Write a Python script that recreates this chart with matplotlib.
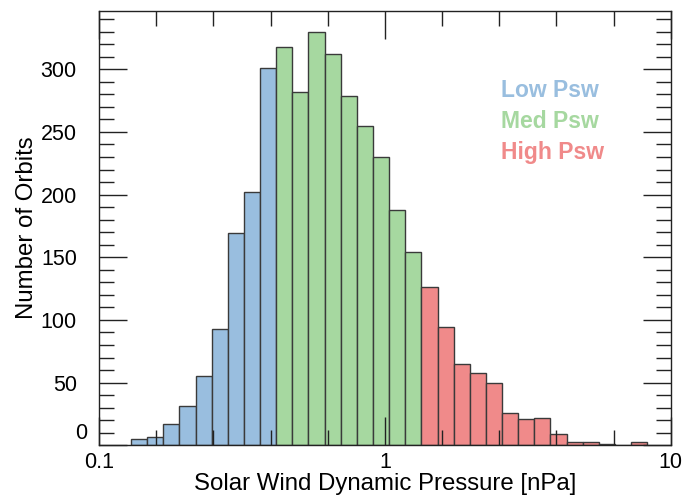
import matplotlib
matplotlib.use("Agg")
import matplotlib.pyplot as plt
import numpy as np
from matplotlib.ticker import FixedLocator, NullFormatter, FixedFormatter

plt.rcParams['font.family'] = ['Liberation Sans', 'DejaVu Sans']

# log-spaced bin edges of the pressure histogram [nPa]
edge_lo, edge_hi, n_bins = 0.1294, 8.28, 32
edges = np.logspace(np.log10(edge_lo), np.log10(edge_hi), n_bins + 1)

# orbit counts per bin, split into the three pressure groups
low_counts = [5, 7, 17, 31, 55, 93, 169, 202, 301]
med_counts = [318, 282, 330, 312, 279, 255, 230, 188, 154]
high_counts = [126, 94, 65, 58, 50, 26, 21, 22, 9, 3, 3, 1, 0, 3]

group_names = ['Low Psw', 'Med Psw', 'High Psw']
group_colors = ['#99bedf', '#a6d8a0', '#f08a8a']

y_ticks = [0, 50, 100, 150, 200, 250, 300]

fig = plt.figure(figsize=(6.84, 5.0), dpi=100)
ax = fig.add_axes([0.1447, 0.1094, 0.8359, 0.8686])

start = 0
for counts, col in zip([low_counts, med_counts, high_counts], group_colors):
    lo = edges[start:start + len(counts)]
    hi = edges[start + 1:start + len(counts) + 1]
    ax.bar(lo, counts, width=hi - lo, align='edge', color=col,
           edgecolor='#3a3a3a', linewidth=1.0, zorder=1)
    start += len(counts)

ax.set_xscale('log')
ax.set_xlim(0.1, 10)
ax.set_ylim(0, 346.5)

ax.xaxis.set_major_locator(FixedLocator([0.1, 1, 10]))
ax.xaxis.set_major_formatter(FixedFormatter(['0.1', '1', '10']))
minor_x = [10 ** p for p in np.arange(-1, 1.001, 0.2) if abs(p - round(p)) > 1e-6]
ax.xaxis.set_minor_locator(FixedLocator(minor_x))
ax.xaxis.set_minor_formatter(NullFormatter())
ax.yaxis.set_major_locator(FixedLocator(y_ticks))
# the zero label is drawn separately, nudged off the corner
ax.yaxis.set_major_formatter(FixedFormatter([''] + [str(v) for v in y_ticks[1:]]))
ax.yaxis.set_minor_locator(FixedLocator(np.arange(0, 341, 10)))

ax.tick_params(which='both', direction='in', top=True, right=True,
               width=1.0, color='#222222', labelsize=15.5)
ax.tick_params(which='major', length=20)
ax.tick_params(which='minor', length=11)
ax.tick_params(axis='x', which='major', pad=5)
ax.tick_params(axis='y', which='major', pad=16)
for sp in ax.spines.values():
    sp.set_linewidth(1.0)
    sp.set_color('#222222')

ax.text(-0.021, 0.028, str(y_ticks[0]), fontsize=15.5, ha='right', va='center',
        transform=ax.transAxes)

ax.set_xlabel('Solar Wind Dynamic Pressure [nPa]', fontsize=17.3, labelpad=0)
ax.set_ylabel('Number of Orbits', fontsize=17.3, labelpad=2)

for i, (name, col) in enumerate(zip(group_names, group_colors)):
    ax.text(0.7027, 0.8013 - i * 0.0705, name, color=col, fontsize=16.5,
            fontweight='bold', transform=ax.transAxes, va='baseline', ha='left')

fig.savefig('out.png', dpi=100)
